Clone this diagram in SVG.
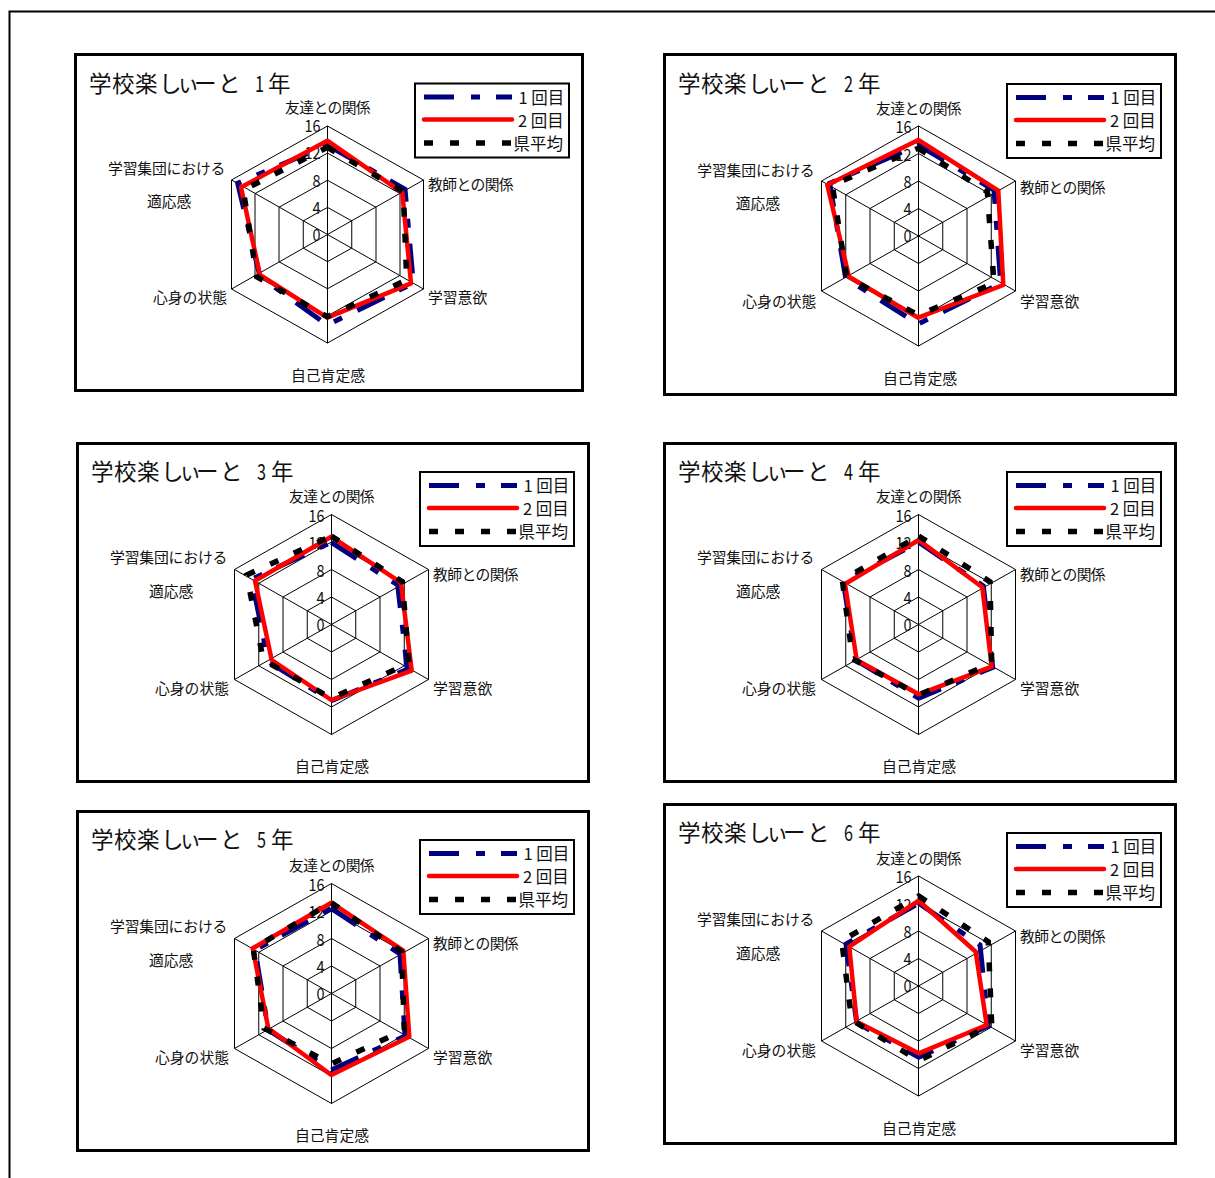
<svg xmlns="http://www.w3.org/2000/svg" xmlns:xlink="http://www.w3.org/1999/xlink" width="1215" height="1178" viewBox="0 0 1215 1178">
<style>
text{font-family:"Noto Sans CJK JP","Noto Sans",sans-serif;fill:#111}
.box{fill:#fff;stroke:#000;stroke-width:3}
.leg{fill:#fff;stroke:#000;stroke-width:2}
.grid{fill:none;stroke:#000;stroke-width:1}
.t{font-size:22.5px}
.l{font-size:14.8px}
.k{letter-spacing:-.6px}
.m{letter-spacing:-.15px}
.n{font-size:17px;text-anchor:end}
.g{font-size:16.5px}
.s1,.s2,.s3{fill:none}
.s1{stroke:#000080;stroke-width:5;stroke-dasharray:30 17 9 16}
.s2{stroke:#f00;stroke-width:4.5;stroke-linecap:round;stroke-linejoin:round}
.s3{stroke:#000;stroke-width:5.5;stroke-dasharray:9 17}
</style>
<defs>
<path id="grid110" class="grid" d="M0-110L97-55V55L0 110L-97 55V-55ZM0-82.5L72.75-41.25V41.25L0 82.5L-72.75 41.25V-41.25ZM0-55L48.5-27.5V27.5L0 55L-48.5 27.5V-27.5ZM0-27.5L24.25-13.75V13.75L0 27.5L-24.25 13.75V-13.75ZM0-110V110M-97-55L97 55M-97 55L97-55"/>
<path id="grid108" class="grid" d="M0-108.5L96-54.5V54.5L0 108.5L-96 54.5V-54.5ZM0-81.4L72.5-40.9V40.9L0 81.4L-72.5 40.9V-40.9ZM0-54.25L48.5-27.25V27.25L0 54.25L-48.5 27.25V-27.25ZM0-27.1L24.25-13.6V13.6L0 27.1L-24.25 13.6V-13.6ZM0-108.5V108.5M-96-54.5L96 54.5M-96 54.5L96-54.5"/>
<g id="legend">
<rect class="leg" x="0" y="0" width="154" height="74"/>
<path class="s1" d="M9 13.5H97"/>
<path class="s2" d="M9 36H97"/>
<path class="s3" d="M9 59.5H96"/>
<text class="g" x="103.5" y="20">1 回目</text>
<text class="g" x="103" y="43">2 回目</text>
<text class="g" x="98.5" y="66">県平均</text>
</g>
<g id="scale">
<text class="n" x="-7" y="-102.7" textLength="16" lengthAdjust="spacingAndGlyphs">16</text>
<text class="n" x="-7" y="-75.3" textLength="16" lengthAdjust="spacingAndGlyphs">12</text>
<text class="n" x="-7" y="-48" textLength="8" lengthAdjust="spacingAndGlyphs">8</text>
<text class="n" x="-7" y="-21" textLength="8" lengthAdjust="spacingAndGlyphs">4</text>
<text class="n" x="-7" y="6.3" textLength="8" lengthAdjust="spacingAndGlyphs">0</text>
</g>
</defs>
<rect width="1215" height="1178" fill="#fff"/>
<path id="frame" d="M9.5 1178V11.5H1215" fill="none" stroke="#000" stroke-width="2"/>

<g id="chart1">
<rect class="box" x="75.5" y="54.5" width="507" height="336"/>
<use href="#grid108" x="327.5" y="234.5"/>
<use href="#scale" x="327.5" y="234.5"/>
<text class="t" x="89" y="92" dx="0 .5 .5 1.5 -4.5 -5.5 1.5">学校楽しぃーと</text>
<text class="t" x="255" y="92" textLength="9" lengthAdjust="spacingAndGlyphs">1</text>
<text class="t" x="268" y="92">年</text>
<text class="l k" x="285" y="113">友達との関係</text>
<text class="l k" x="428" y="190">教師との関係</text>
<text class="l" x="428" y="303">学習意欲</text>
<text class="l" x="291" y="381">自己肯定感</text>
<text class="l" x="153" y="303">心身の状態</text>
<text class="l m" x="108" y="174.3">学習集団における</text>
<text class="l" x="147" y="207">適応感</text>
<use href="#legend" x="415" y="83.5"/>
</g>
<g id="chart2">
<rect class="box" x="664.5" y="54.5" width="511" height="340"/>
<use href="#grid110" x="918.5" y="236"/>
<use href="#scale" x="918.5" y="236"/>
<text class="t" x="678" y="92" dx="0 .5 .5 1.5 -4.5 -5.5 1.5">学校楽しぃーと</text>
<text class="t" x="844" y="92" textLength="9" lengthAdjust="spacingAndGlyphs">2</text>
<text class="t" x="858" y="92">年</text>
<text class="l k" x="876" y="114">友達との関係</text>
<text class="l k" x="1020" y="192.7">教師との関係</text>
<text class="l" x="1020" y="306.7">学習意欲</text>
<text class="l" x="883" y="384.3">自己肯定感</text>
<text class="l" x="742.3" y="306.7">心身の状態</text>
<text class="l m" x="697.3" y="175.7">学習集団における</text>
<text class="l" x="735.7" y="209.3">適応感</text>
<use href="#legend" x="1007" y="84"/>
</g>
<g id="chart3">
<rect class="box" x="77.5" y="443.5" width="511" height="338"/>
<use href="#grid110" x="331.5" y="624.5"/>
<use href="#scale" x="331.5" y="624.5"/>
<text class="t" x="91" y="480" dx="0 .5 .5 1.5 -4.5 -5.5 1.5">学校楽しぃーと</text>
<text class="t" x="257" y="480" textLength="9" lengthAdjust="spacingAndGlyphs">3</text>
<text class="t" x="271" y="480">年</text>
<text class="l k" x="289" y="502">友達との関係</text>
<text class="l k" x="433" y="580">教師との関係</text>
<text class="l" x="433" y="694">学習意欲</text>
<text class="l" x="295" y="772">自己肯定感</text>
<text class="l" x="155" y="694">心身の状態</text>
<text class="l m" x="110" y="563">学習集団における</text>
<text class="l" x="149" y="597">適応感</text>
<use href="#legend" x="420" y="472"/>
</g>
<g id="chart4">
<rect class="box" x="664.5" y="443.5" width="511" height="338"/>
<use href="#grid110" x="918.5" y="624.5"/>
<use href="#scale" x="918.5" y="624.5"/>
<text class="t" x="678" y="480" dx="0 .5 .5 1.5 -4.5 -5.5 1.5">学校楽しぃーと</text>
<text class="t" x="844" y="480" textLength="9" lengthAdjust="spacingAndGlyphs">4</text>
<text class="t" x="858" y="480">年</text>
<text class="l k" x="876" y="502">友達との関係</text>
<text class="l k" x="1020" y="580">教師との関係</text>
<text class="l" x="1020" y="694">学習意欲</text>
<text class="l" x="882" y="772">自己肯定感</text>
<text class="l" x="742" y="694">心身の状態</text>
<text class="l m" x="697" y="563">学習集団における</text>
<text class="l" x="736" y="597">適応感</text>
<use href="#legend" x="1007" y="472"/>
</g>
<g id="chart5">
<rect class="box" x="77.5" y="811.5" width="511" height="339"/>
<use href="#grid110" x="331.5" y="993.5"/>
<use href="#scale" x="331.5" y="993.5"/>
<text class="t" x="91" y="848" dx="0 .5 .5 1.5 -4.5 -5.5 1.5">学校楽しぃーと</text>
<text class="t" x="257" y="848" textLength="9" lengthAdjust="spacingAndGlyphs">5</text>
<text class="t" x="271" y="848">年</text>
<text class="l k" x="289" y="871">友達との関係</text>
<text class="l k" x="433" y="949">教師との関係</text>
<text class="l" x="433" y="1063">学習意欲</text>
<text class="l" x="295" y="1141">自己肯定感</text>
<text class="l" x="155" y="1063">心身の状態</text>
<text class="l m" x="110" y="932">学習集団における</text>
<text class="l" x="149" y="966">適応感</text>
<use href="#legend" x="420" y="840"/>
</g>
<g id="chart6">
<rect class="box" x="664.5" y="804.5" width="511" height="339"/>
<use href="#grid110" x="918.5" y="986"/>
<use href="#scale" x="918.5" y="986"/>
<text class="t" x="678" y="841" dx="0 .5 .5 1.5 -4.5 -5.5 1.5">学校楽しぃーと</text>
<text class="t" x="844" y="841" textLength="9" lengthAdjust="spacingAndGlyphs">6</text>
<text class="t" x="858" y="841">年</text>
<text class="l k" x="876" y="864">友達との関係</text>
<text class="l k" x="1020" y="942">教師との関係</text>
<text class="l" x="1020" y="1056">学習意欲</text>
<text class="l" x="882" y="1134">自己肯定感</text>
<text class="l" x="742" y="1056">心身の状態</text>
<text class="l m" x="697" y="925">学習集団における</text>
<text class="l" x="736" y="959">適応感</text>
<use href="#legend" x="1007" y="833"/>
</g>
<g id="connectors">
<polygon class="s1" points="327.3,145 405,189.3 413.3,283.3 327.3,325 260,276.7 237.7,183.3"/>
<polygon class="s2" points="327.3,140.7 402.3,192.7 411,283.3 327.3,317.7 260,275 241,187.3"/>
<polygon class="s3" points="327.3,147.3 403.3,191.7 406.7,280 327.3,316.7 256.7,276.7 243.3,190"/>
<polygon class="s1" points="918.3,145 994,190 1000.7,283.3 918.3,324 845.7,278.3 829.7,183.3"/>
<polygon class="s2" points="918.3,140 998.3,190.7 1003.3,285 918.3,317.7 849,276.7 827.3,185"/>
<polygon class="s3" points="918.3,148.3 987.3,191.7 994,283.3 918.3,315 846.7,277.3 832.3,185"/>
<polygon class="s1" points="331.3,542.3 397.7,585 407.3,669.3 331.3,700.7 268.3,661.7 251.7,579.3"/>
<polygon class="s2" points="331.3,536.7 401,582.7 411.7,670.7 331.3,700 271.7,660 255,580.7"/>
<polygon class="s3" points="331.3,536 402.3,581.7 409,663.3 331.3,698.3 263.3,660 246.7,575"/>
<polygon class="s1" points="918.7,542.3 983.3,586 992.7,667.3 918.7,698.3 855.7,660 843.3,581.7"/>
<polygon class="s2" points="918.7,540 982.3,587.3 991.7,666.7 918.7,694.3 856.7,660 845,584"/>
<polygon class="s3" points="918.7,536 990,581.7 991.7,663.3 918.7,695 852.7,659 842.3,580"/>
<polygon class="s1" points="331.3,908.3 400,954 405,1036 331.3,1070 268.3,1030 255,950"/>
<polygon class="s2" points="331.3,902.7 403.3,950.7 409.3,1036.7 331.3,1075 268.3,1028.3 252.7,948.3"/>
<polygon class="s3" points="331.3,902.7 401.7,951.7 404.3,1030 331.3,1064 264,1028.3 253.3,948.3"/>
<polygon class="s1" points="918.7,903.3 980,945 988.3,1026 918.7,1057.3 856.7,1022.7 846,944"/>
<polygon class="s2" points="918.7,900.7 975.7,951.7 986.7,1025 918.7,1053.3 856.7,1021.7 849.3,946.7"/>
<polygon class="s3" points="918.7,896 988.3,941.7 991.7,1025 918.7,1060.7 851.7,1020 841.7,940.7"/>
</g>
</svg>
